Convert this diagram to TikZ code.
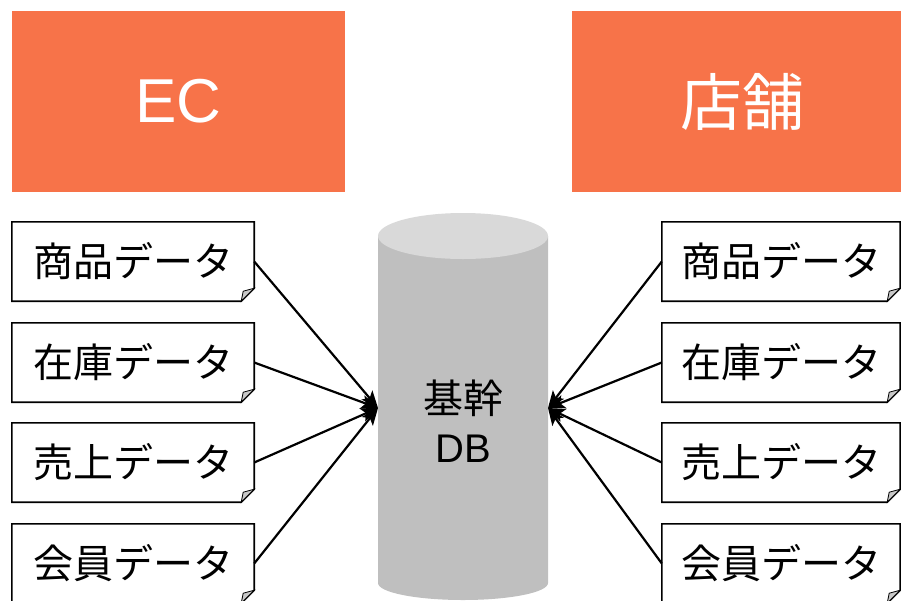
\documentclass[tikz,border=0pt]{standalone}
\usepackage{fontspec}
\setmainfont{Liberation Sans}
\newfontfamily\jp{Noto Sans CJK JP}
\usetikzlibrary{arrows.meta,calc}
\definecolor{headorange}{HTML}{F77349}
\definecolor{dbbody}{HTML}{BFBFBF}
\definecolor{dbtop}{HTML}{D9D9D9}
\definecolor{foldgray}{HTML}{C8C8C8}
\tikzset{
  header/.style={fill=headorange, text=white, inner sep=0pt, font=\jp\fontsize{62}{62}\selectfont},
  docbox/.style={inner sep=0pt, minimum height=79pt, font=\jp\fontsize{40}{40}\selectfont},
  link/.style={line width=2.2pt, -{Stealth[length=17pt,width=14pt,inset=4pt]}},
}
% a sheet outline with a curled bottom-right corner
\newcommand{\sheet}[1]{%
  \draw[line width=1.6pt]
    (#1.south east) ++(0,-13) -- (#1.north east) -- (#1.north west)
    -- (#1.south west) -- ($(#1.south east)+(-13,0)$) -- cycle;
  \fill[foldgray, draw=black, line width=0.8pt]
    (#1.south east) ++(0,-13) -- ++(-13,13) -- ++(2,-10) -- cycle;
}
\begin{document}
\begin{tikzpicture}[x=1pt, y=-1pt]
\useasboundingbox (0,0) rectangle (901,600);

% source headers
\node[header, minimum width=333pt, minimum height=181pt] (ec) at (178.5,101.5) {\rmfamily EC};
\node[header, minimum width=340pt, minimum height=181pt] (shop) at (742,101.5) {店舗};

% core database cylinder
\fill[dbbody] (378,236) -- (378,583) arc[start angle=180, end angle=360, x radius=85, y radius=-17]
  -- (548,236) -- cycle;
\fill[dbtop] (463,236) ellipse[x radius=85, y radius=23];
\node[font=\fontsize{40}{49}\selectfont, align=center] (db) at (463,421) {{\jp 基幹}\\DB};
\coordinate (dbL) at (378,408);
\coordinate (dbR) at (548,408);

% EC side sheets
\node[docbox, minimum width=242pt] (e1) at (133,261.5) {商品データ};
\node[docbox, minimum width=242pt] (e2) at (133,362.5) {在庫データ};
\node[docbox, minimum width=242pt] (e3) at (133,462.5) {売上データ};
\node[docbox, minimum width=242pt] (e4) at (133,563.5) {会員データ};
% store side sheets
\node[docbox, minimum width=238pt] (s1) at (781,261.5) {商品データ};
\node[docbox, minimum width=238pt] (s2) at (781,362.5) {在庫データ};
\node[docbox, minimum width=238pt] (s3) at (781,462.5) {売上データ};
\node[docbox, minimum width=238pt] (s4) at (781,563.5) {会員データ};
\foreach \n in {e1,e2,e3,e4,s1,s2,s3,s4} {\sheet{\n}}

% flows into the database
\foreach \n in {e1,e2,e3,e4} {\draw[link] (\n.east) -- (dbL);}
\foreach \n in {s1,s2,s3,s4} {\draw[link] (\n.west) -- (dbR);}
\end{tikzpicture}
\end{document}
